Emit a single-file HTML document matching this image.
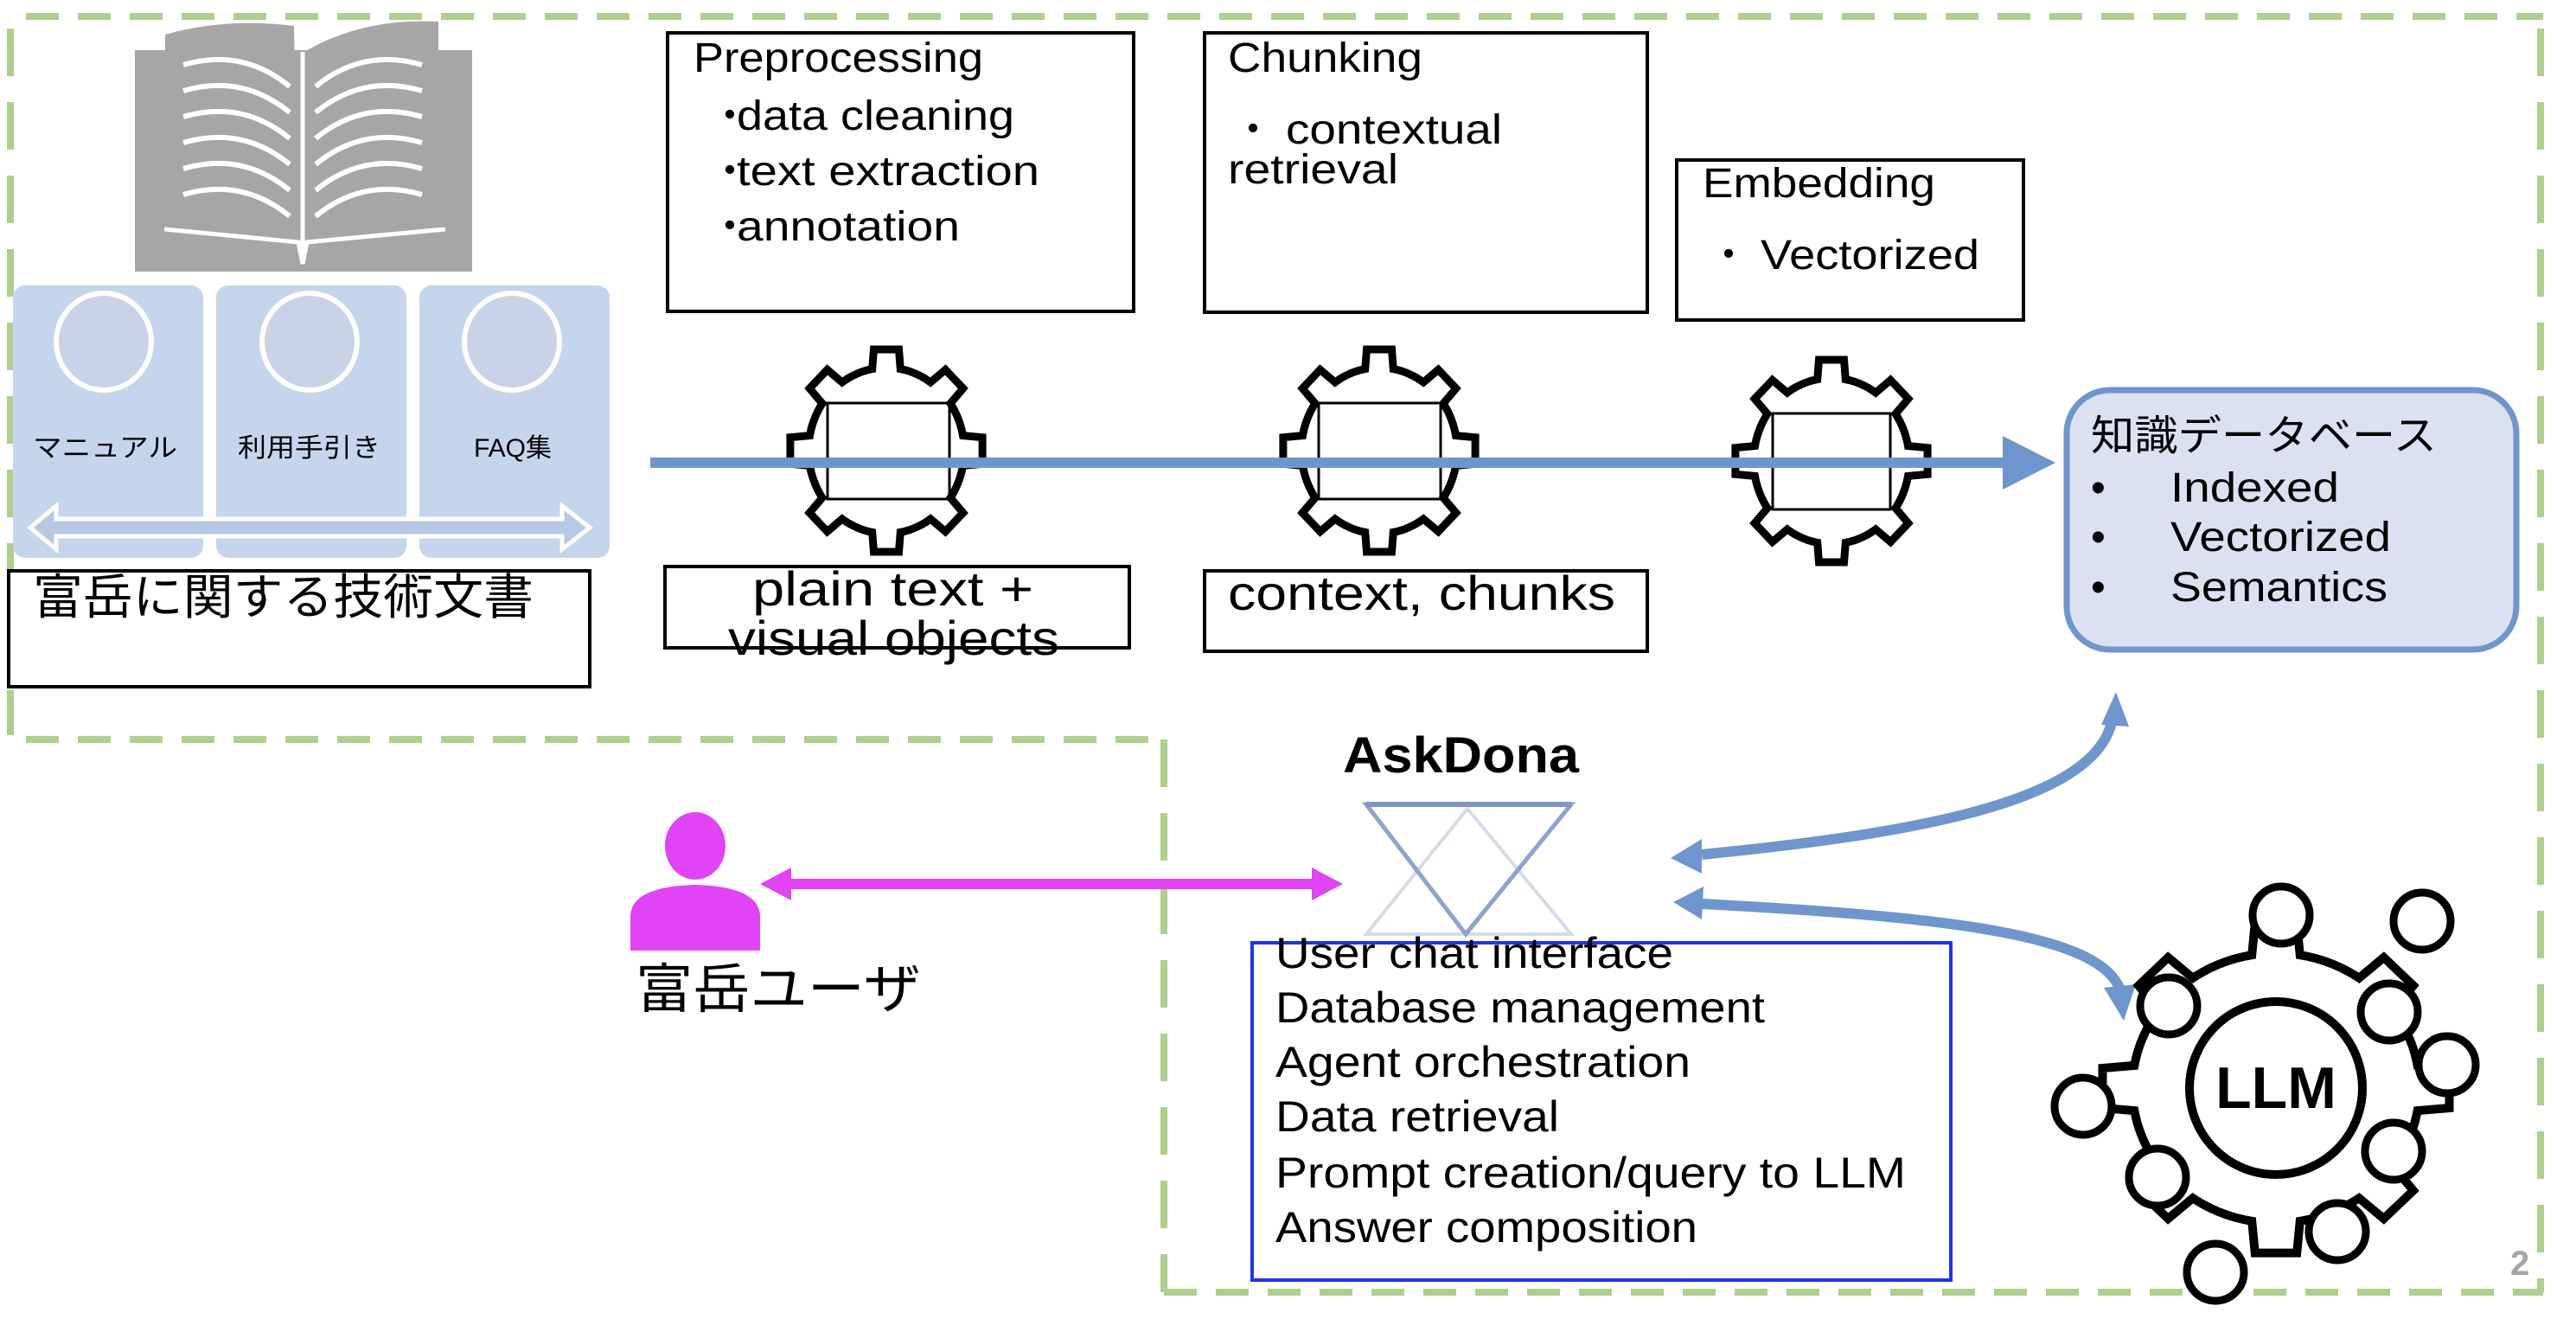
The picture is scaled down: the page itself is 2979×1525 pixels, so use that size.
<!DOCTYPE html>
<html><head><meta charset="utf-8"><style>
html,body{margin:0;padding:0;background:#fff;}
svg{display:block;}
text{font-family:"Liberation Sans","Noto Sans CJK JP",sans-serif;fill:#000;}
</style></head><body>
<svg id="s" width="2979" height="1525" viewBox="0 0 2979 1525" xmlns="http://www.w3.org/2000/svg">
<g stroke="#aecf8f" stroke-width="8" fill="none">
<line x1="30" y1="19" x2="2941" y2="19" stroke-dasharray="38 22"/>
<line x1="2938" y1="33" x2="2938" y2="1494" stroke-dasharray="55 30"/>
<line x1="12" y1="33" x2="12" y2="850" stroke-dasharray="55 30"/>
<line x1="30" y1="855" x2="1345" y2="855" stroke-dasharray="38 22"/>
<line x1="1346" y1="855" x2="1346" y2="1494" stroke-dasharray="55 30"/>
<line x1="1346" y1="1494" x2="2941" y2="1494" stroke-dasharray="38 22"/>
</g>
<g>
<rect x="156" y="58" width="390" height="256" fill="#a6a6a6"/>
<path d="M191,300 L191,40 Q260,20 340,30 L345,300 Z" fill="#a6a6a6"/>
<path d="M352,300 L352,60 Q420,20 507,25 L507,300 Z" fill="#a6a6a6"/>
<path d="M190,265 L345,280 L350,305 L355,280 L515,265" stroke="#fff" stroke-width="5" fill="none"/>
<line x1="350" y1="60" x2="350" y2="300" stroke="#fff" stroke-width="5"/>
<g stroke="#fff" stroke-width="6" fill="none">
<path d="M212,75 Q280,55 335,100"/><path d="M212,105 Q280,85 335,130"/><path d="M212,135 Q280,115 335,160"/><path d="M212,165 Q280,145 335,190"/><path d="M212,195 Q280,175 335,220"/><path d="M212,225 Q280,205 335,250"/>
<path d="M365,100 Q420,55 488,75"/><path d="M365,130 Q420,85 488,105"/><path d="M365,160 Q420,115 488,135"/><path d="M365,190 Q420,145 488,165"/><path d="M365,220 Q420,175 488,195"/><path d="M365,250 Q420,205 488,225"/>
</g>
</g>
<g fill="#c5d5ec">
<rect x="15" y="330" width="220" height="315" rx="14"/>
<rect x="250" y="330" width="220" height="315" rx="14"/>
<rect x="485" y="330" width="220" height="315" rx="14"/>
</g>
<g fill="#c9d3e8" stroke="#fff" stroke-width="6">
<ellipse cx="120" cy="395" rx="55" ry="56"/>
<ellipse cx="358" cy="395" rx="55" ry="56"/>
<ellipse cx="592" cy="395" rx="55" ry="56"/>
</g>
<text x="38" y="528" font-size="30" textLength="167" lengthAdjust="spacingAndGlyphs">マニュアル</text>
<text x="275" y="528" font-size="30" textLength="165" lengthAdjust="spacingAndGlyphs">利用手引き</text>
<text x="548" y="528" font-size="30" textLength="90" lengthAdjust="spacingAndGlyphs">FAQ集</text>
<path d="M35,610 L65,585 L65,600 L650,600 L650,585 L682,610 L650,635 L650,620 L65,620 L65,635 Z" fill="#b8c8e4" stroke="#fff" stroke-width="5"/>
<rect x="10" y="660" width="672" height="134" fill="#fff" stroke="#000" stroke-width="4"/>
<text x="38" y="710" font-size="56" textLength="579" lengthAdjust="spacingAndGlyphs">富岳に関する技術文書</text>

<g fill="#fff" stroke="#000" stroke-width="4">
<rect x="772" y="38" width="539" height="322"/>
<rect x="1393" y="38" width="512" height="323"/>
<rect x="1939" y="185" width="401" height="185"/>
<rect x="769" y="655" width="537" height="94"/>
<rect x="1393" y="660" width="512" height="93"/>
</g>
<text x="802" y="83" font-size="48" textLength="335" lengthAdjust="spacingAndGlyphs">Preprocessing</text>
<text x="820" y="150" font-size="48">・</text><text x="852" y="150" font-size="48" textLength="321" lengthAdjust="spacingAndGlyphs">data cleaning</text>
<text x="820" y="214" font-size="48">・</text><text x="852" y="214" font-size="48" textLength="350" lengthAdjust="spacingAndGlyphs">text extraction</text>
<text x="820" y="278" font-size="48">・</text><text x="852" y="278" font-size="48" textLength="258" lengthAdjust="spacingAndGlyphs">annotation</text>
<text x="1420" y="83" font-size="48" textLength="225" lengthAdjust="spacingAndGlyphs">Chunking</text>
<text x="1425" y="166" font-size="48">・</text><text x="1487" y="166" font-size="48" textLength="250" lengthAdjust="spacingAndGlyphs">contextual</text>
<text x="1420" y="212" font-size="48" textLength="197" lengthAdjust="spacingAndGlyphs">retrieval</text>
<text x="1969" y="228" font-size="48" textLength="269" lengthAdjust="spacingAndGlyphs">Embedding</text>
<text x="1975" y="311" font-size="48">・</text><text x="2036" y="311" font-size="48" textLength="253" lengthAdjust="spacingAndGlyphs">Vectorized</text>
<text x="870" y="700" font-size="56" textLength="325" lengthAdjust="spacingAndGlyphs">plain text +</text>
<text x="842" y="757" font-size="56" textLength="383" lengthAdjust="spacingAndGlyphs">visual objects</text>
<text x="1420" y="705" font-size="56" textLength="448" lengthAdjust="spacingAndGlyphs">context, chunks</text>

<g id="gears"></g>
<line x1="752" y1="535" x2="2320" y2="535" stroke="#6f96cc" stroke-width="12"/>
<polygon points="2316,504 2377,535 2316,566" fill="#6f96cc"/>

<rect x="2390" y="451" width="520" height="300" rx="50" fill="#dbe1f1" stroke="#6f96cc" stroke-width="7"/>
<text x="2418" y="520" font-size="48" textLength="400" lengthAdjust="spacingAndGlyphs">知識データベース</text>
<text x="2418" y="580" font-size="48">•</text><text x="2510" y="580" font-size="48" textLength="195" lengthAdjust="spacingAndGlyphs">Indexed</text>
<text x="2418" y="637" font-size="48">•</text><text x="2510" y="637" font-size="48" textLength="255" lengthAdjust="spacingAndGlyphs">Vectorized</text>
<text x="2418" y="695" font-size="48">•</text><text x="2510" y="695" font-size="48" textLength="251" lengthAdjust="spacingAndGlyphs">Semantics</text>

<text x="1553" y="893" font-size="58" font-weight="bold" textLength="273" lengthAdjust="spacingAndGlyphs">AskDona</text>
<g fill="none">
<polygon points="1580,1080 1817,1080 1697,935" stroke="#d5dbe8" stroke-width="4"/>
<polygon points="1580,930 1817,930 1695,1080" stroke="#8fa3cc" stroke-width="5"/>
<line x1="1580" y1="930" x2="1817" y2="930" stroke="#7e95c6" stroke-width="6"/>
</g>

<ellipse cx="804" cy="978" rx="35" ry="39" fill="#e044f4"/>
<path d="M729,1099 L729,1060 Q729,1025 804,1023 Q879,1025 879,1060 L879,1099 Z" fill="#e044f4"/>
<text x="735" y="1165" font-size="62" textLength="330" lengthAdjust="spacingAndGlyphs">富岳ユーザ</text>
<line x1="910" y1="1022" x2="1520" y2="1022" stroke="#e044f4" stroke-width="12"/>
<polygon points="879,1022 915,1003 915,1041" fill="#e044f4"/>
<polygon points="1553,1022 1517,1003 1517,1041" fill="#e044f4"/>

<rect x="1448" y="1090" width="808" height="390" fill="none" stroke="#1f35e6" stroke-width="4"/>
<text x="1475" y="1119" font-size="50" textLength="460" lengthAdjust="spacingAndGlyphs">User chat interface</text>
<text x="1475" y="1182" font-size="50" textLength="566" lengthAdjust="spacingAndGlyphs">Database management</text>
<text x="1475" y="1245" font-size="50" textLength="480" lengthAdjust="spacingAndGlyphs">Agent orchestration</text>
<text x="1475" y="1308" font-size="50" textLength="328" lengthAdjust="spacingAndGlyphs">Data retrieval</text>
<text x="1475" y="1373" font-size="50" textLength="729" lengthAdjust="spacingAndGlyphs">Prompt creation/query to LLM</text>
<text x="1475" y="1436" font-size="50" textLength="488" lengthAdjust="spacingAndGlyphs">Answer composition</text>

<g stroke="#6f96cc" stroke-width="12" fill="none">
<path d="M1968,988 C2200,965 2420,930 2442,835"/>
<path d="M1968,1045 C2250,1060 2430,1080 2452,1145"/>
</g>
<polygon points="1932,992 1968,970 1968,1010" fill="#6f96cc"/>
<polygon points="2447,800 2430,838 2462,840" fill="#6f96cc"/>
<polygon points="1935,1043 1970,1025 1968,1063" fill="#6f96cc"/>
<polygon points="2456,1180 2433,1142 2470,1138" fill="#6f96cc"/>

<g id="llm"></g>
<text x="2903" y="1474" font-size="40" font-weight="bold" style="fill:#a6a6a6">2</text>
</svg>
<script>
function gearPath(cx,cy,rx,ry,tooth,n,start,tw){
  var pts=[];var step=2*Math.PI/n;
  for(var k=0;k<n;k++){
    var a=start+k*step;
    var seg=24;
    var a0=a-tw*1.4,a1=a-tw,a2=a+tw,a3=a+tw*1.4;
    pts.push([cx+rx*Math.cos(a0),cy+ry*Math.sin(a0)]);
    pts.push([cx+(rx+tooth)*Math.cos(a1),cy+(ry+tooth)*Math.sin(a1)]);
    pts.push([cx+(rx+tooth)*Math.cos(a2),cy+(ry+tooth)*Math.sin(a2)]);
    pts.push([cx+rx*Math.cos(a3),cy+ry*Math.sin(a3)]);
    for(var j=1;j<seg;j++){var b=a3+(step-2.8*tw)*j/seg;pts.push([cx+rx*Math.cos(b),cy+ry*Math.sin(b)]);}
  }
  return 'M'+pts.map(function(p){return p[0].toFixed(1)+','+p[1].toFixed(1)}).join(' L')+' Z';
}
var NS='http://www.w3.org/2000/svg';
function el(parent,tag,attrs){var e=document.createElementNS(NS,tag);for(var k in attrs)e.setAttribute(k,attrs[k]);parent.appendChild(e);return e;}
var g=document.getElementById('gears');
[[1025,521,957,466,141,111],[1595,521,1525,466,141,111],[2118,533,2050,478,136,111]].forEach(function(c){
  el(g,'path',{d:gearPath(c[0],c[1],90,96,22,8,-Math.PI/2,0.13),fill:'#fff',stroke:'#000','stroke-width':9,'stroke-linejoin':'miter'});
  el(g,'rect',{x:c[2],y:c[3],width:c[4],height:c[5],fill:'none',stroke:'#000','stroke-width':3});
});
var l=document.getElementById('llm');
el(l,'path',{d:gearPath(2632,1258,166,156,36,8,-Math.PI/2,0.12),fill:'#fff',stroke:'#000','stroke-width':10,'stroke-linejoin':'miter'});
el(l,'circle',{cx:2632,cy:1258,r:100,fill:'#fff',stroke:'#000','stroke-width':10});
var t=el(l,'text',{x:2632,y:1281,'font-size':68,'font-weight':'bold','text-anchor':'middle'});t.textContent='LLM';
[[2638,1058],[2801,1065],[2508,1163],[2763,1170],[2830,1231],[2409,1279],[2768,1331],[2495,1361],[2703,1424],[2562,1471]].forEach(function(p){
  el(l,'ellipse',{cx:p[0],cy:p[1],rx:33,ry:33,fill:'#fff',stroke:'#000','stroke-width':9});
});
</script>
</body></html>
